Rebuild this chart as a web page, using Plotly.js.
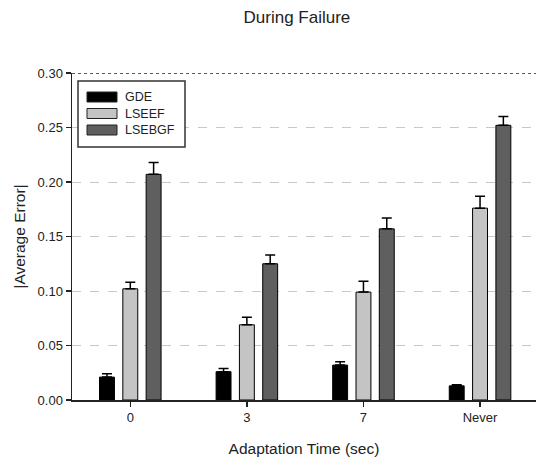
<!DOCTYPE html>
<html>
<head>
<meta charset="utf-8">
<script src="https://cdn.plot.ly/plotly-3.0.1.min.js"></script>
<style>
  html, body { margin: 0; padding: 0; background: #fff; }
  #chart { width: 536px; height: 458px; }
</style>
</head>
<body>
<div id="chart"></div>
<script>
// Adaptation time categories
const categories = ['0', '3', '7', 'Never'];

// Method names and bar fills
const methods = ['GDE', 'LSEEF', 'LSEBGF'];
const fills = ['#000000', '#c4c4c4', '#5f5f5f'];

// Mean |average error| per method
const gdeValues    = [0.021, 0.026, 0.032, 0.013];
const lseefValues  = [0.102, 0.069, 0.099, 0.176];
const lsebgfValues = [0.207, 0.125, 0.157, 0.252];

// Upper error bar lengths
const gdeErr    = [0.003, 0.003, 0.003, 0.001];
const lseefErr  = [0.006, 0.007, 0.010, 0.011];
const lsebgfErr = [0.011, 0.008, 0.010, 0.008];

const seriesValues = [gdeValues, lseefValues, lsebgfValues];
const seriesErrs = [gdeErr, lseefErr, lsebgfErr];

const data = methods.map((name, i) => ({
  type: 'bar',
  name: name,
  x: categories,
  y: seriesValues[i],
  marker: { color: fills[i], line: { color: '#000', width: 1 } },
  error_y: {
    type: 'data', symmetric: false, array: seriesErrs[i],
    arrayminus: seriesErrs[i].map(() => 0),
    color: '#000', thickness: 1.5, width: 5
  }
}));

const font = { family: 'Arial, "Liberation Sans", sans-serif', color: '#222' };

// Plot area in pixels (used to place the legend box in paper units)
const plotL = 72, plotW = 464, plotT = 73, plotH = 327;
const px = (x) => (x - plotL) / plotW;
const py = (y) => (plotT + plotH - y) / plotH;

// Dotted top line plus a framed legend box with wide swatches
const shapes = [{
  type: 'line', xref: 'paper', yref: 'y',
  x0: 0, x1: 1, y0: 0.30, y1: 0.30,
  line: { color: '#222', width: 1.5, dash: 'dot' }
}, {
  type: 'rect', xref: 'paper', yref: 'paper',
  x0: px(78), x1: px(185), y0: py(147), y1: py(81),
  fillcolor: '#fff', line: { color: '#333', width: 1.5 }
}];
const annotations = [];
methods.forEach((name, i) => {
  const top = 92 + i * 16.5;
  shapes.push({
    type: 'rect', xref: 'paper', yref: 'paper',
    x0: px(87), x1: px(117), y0: py(top + 10), y1: py(top),
    fillcolor: fills[i], line: { color: '#222', width: 1 }
  });
  annotations.push({
    xref: 'paper', yref: 'paper', x: px(123), y: py(top + 5),
    xanchor: 'left', yanchor: 'middle', showarrow: false,
    text: name, font: Object.assign({}, font, { size: 12.5 })
  });
});

const layout = {
  width: 536, height: 458,
  margin: { l: plotL, r: 536 - plotL - plotW, t: plotT, b: 458 - plotT - plotH },
  paper_bgcolor: '#fff', plot_bgcolor: '#fff',
  font: Object.assign({ size: 13 }, font),
  title: {
    text: 'During Failure',
    font: Object.assign({}, font, { size: 17 }),
    x: 0.554, xanchor: 'center', y: 0.962, yanchor: 'middle'
  },
  barmode: 'group',
  bargap: 0.4,
  bargroupgap: 0.36,
  showlegend: false,
  xaxis: {
    type: 'category',
    range: [-0.5, 3.48],
    showline: true, linecolor: '#222', linewidth: 1.5,
    ticks: 'outside', ticklen: 5, tickcolor: '#222', tickwidth: 1.5,
    tickfont: Object.assign({}, font, { size: 13 }),
    showgrid: false, zeroline: false,
    title: { text: 'Adaptation Time (sec)', font: Object.assign({}, font, { size: 15.5 }), standoff: 19 }
  },
  yaxis: {
    range: [0, 0.30],
    tickvals: [0, 0.05, 0.10, 0.15, 0.20, 0.25, 0.30],
    ticktext: ['0.00', '0.05', '0.10', '0.15', '0.20', '0.25', '0.30'],
    showline: true, linecolor: '#222', linewidth: 1.5,
    ticks: 'outside', ticklen: 5, tickcolor: '#222', tickwidth: 1.5,
    tickfont: Object.assign({}, font, { size: 13 }),
    showgrid: true, gridcolor: '#c8c8c8', gridwidth: 1, griddash: 'dash',
    zeroline: false,
    title: { text: '|Average Error|', font: Object.assign({}, font, { size: 15.5 }), standoff: 8 }
  },
  shapes: shapes,
  annotations: annotations
};

Plotly.newPlot('chart', data, layout, { displayModeBar: false, staticPlot: true });
</script>
</body>
</html>
